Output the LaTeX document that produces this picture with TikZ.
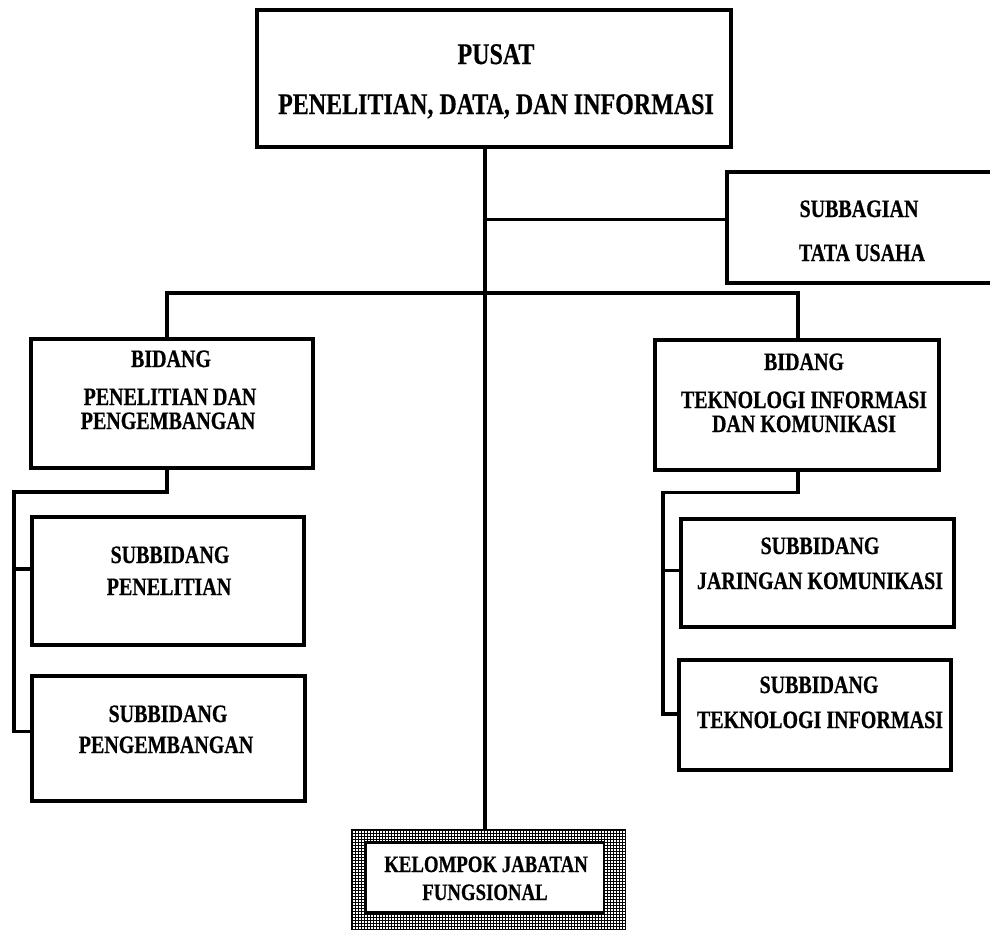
\documentclass[tikz,border=0pt]{standalone}
\usepackage{fontspec}
\newfontfamily\orgfont{Liberation Serif}[FakeStretch=0.8, BoldFeatures={FakeBold=0.5}]
\begin{document}
\begin{tikzpicture}[x=1pt,y=-1pt,
  box/.style={draw, line width=4pt, fill=white, inner sep=0pt},
  link/.style={line width=3.6pt},
  txt/.style={anchor=base, inner sep=0pt, font=\orgfont\bfseries\fontsize{25}{25}\selectfont},
  bigtxt/.style={txt, font=\orgfont\bfseries\fontsize{30}{30}\selectfont},
  smalltxt/.style={txt, font=\orgfont\bfseries\fontsize{23.5}{23.5}\selectfont},
  hatchline/.style={line width=0.7pt}
]
\useasboundingbox (0,0) rectangle (990,929);

% junction coordinates of the connector lines
\coordinate (tr)  at (485,0);
\coordinate (tu)  at (485,219.5);
\coordinate (barL) at (167,293);
\coordinate (barR) at (798,293);
\coordinate (lsp) at (13.7,492);
\coordinate (lb1) at (13.7,569);
\coordinate (lb2) at (13.7,731.5);
\coordinate (rsp) at (663,492.5);
\coordinate (rb1) at (663,570.5);
\coordinate (rb2) at (663,714);

% boxes
\node[box, minimum width=474pt,   minimum height=137pt]   (top)  at (494,78) {};
\node[box, minimum width=273pt,   minimum height=110.5pt] (sub)  at (863.5,227.25) {};
\node[box, minimum width=281.5pt, minimum height=129.5pt] (bidL) at (171.75,403.25) {};
\node[box, minimum width=284.6pt, minimum height=130pt]   (bidR) at (797,405) {};
\node[box, minimum width=272pt,   minimum height=128pt]   (sL1)  at (168,581) {};
\node[box, minimum width=273pt,   minimum height=125.5pt] (sL2)  at (168.5,738.25) {};
\node[box, minimum width=272.5pt, minimum height=107.7pt] (sR1)  at (817.55,572.85) {};
\node[box, minimum width=271.7pt, minimum height=110pt]   (sR2)  at (814.65,715) {};

% hatched frame of the functional group box
\node[draw, line width=1pt, inner sep=0pt, minimum width=274pt, minimum height=100pt] (kjfo) at (488,879) {};
\begin{scope}
  \clip (351,829) rectangle (625,929);
  \foreach \x in {352,355,...,625} \draw[hatchline] (\x,829) -- (\x,929);
  \foreach \y in {830,833,...,929} \draw[hatchline] (351,\y) -- (625,\y);
\end{scope}
\node[box, line width=2.7pt, minimum width=238.5pt, minimum height=69.8pt] (kjf) at (484.75,877.4) {};

% connectors
\draw[link] (top.south -| tr) -- (kjfo.north -| tr);
\draw[link] (tu) -- (tu -| sub.west);
\draw[link] (barL |- bidL.north) -- (barL) -- (barR) -- (barR |- bidR.north);
\draw[link] (bidL.south -| barL) -- (barL |- lsp) -- (lsp) -- (lb2) -- (lb2 -| sL2.west);
\draw[link] (lb1) -- (lb1 -| sL1.west);
\draw[link] (bidR.south -| barR) -- (barR |- rsp) -- (rsp) -- (rb2) -- (rb2 -| sR2.west);
\draw[link] (rb1) -- (rb1 -| sR1.west);

% labels
\node[bigtxt] (t1) at (496,64)  {PUSAT};
\node[bigtxt] (t2) at (496,114) {PENELITIAN, DATA, DAN INFORMASI};

\node[txt] (s1) at (859,217) {SUBBAGIAN};
\node[txt] (s2) at (862,261) {TATA USAHA};

\node[txt] (bl1) at (171,367) {BIDANG};
\node[txt] (bl2) at (170,405) {PENELITIAN DAN};
\node[txt] (bl3) at (168,429) {PENGEMBANGAN};

\node[txt] (br1) at (804,370) {BIDANG};
\node[txt] (br2) at (804,408) {TEKNOLOGI INFORMASI};
\node[txt] (br3) at (804,432) {DAN KOMUNIKASI};

\node[txt] (l1a) at (170,563) {SUBBIDANG};
\node[txt] (l1b) at (169,595) {PENELITIAN};
\node[txt] (l2a) at (168,722) {SUBBIDANG};
\node[txt] (l2b) at (166,753) {PENGEMBANGAN};

\node[txt] (r1a) at (820,554) {SUBBIDANG};
\node[txt] (r1b) at (820,589) {JARINGAN KOMUNIKASI};
\node[txt] (r2a) at (819,693) {SUBBIDANG};
\node[txt] (r2b) at (820,728) {TEKNOLOGI INFORMASI};

\node[smalltxt] (k1) at (486,872) {KELOMPOK JABATAN};
\node[smalltxt] (k2) at (485,900) {FUNGSIONAL};
\end{tikzpicture}
\end{document}
